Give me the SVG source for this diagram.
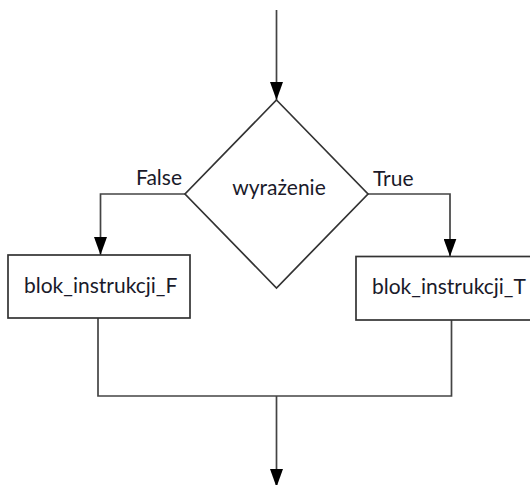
<svg xmlns="http://www.w3.org/2000/svg" width="530" height="485" viewBox="0 0 530 485">
<style>
.shape{fill:#fff;stroke:#333;stroke-width:1.7}
.conn{fill:none;stroke:#444;stroke-width:1.7}
.t{font-family:Lato,"Open Sans","DejaVu Sans",sans-serif;font-size:21px;fill:#1a1a2a}
</style>
<defs>
<marker id="arr" markerUnits="userSpaceOnUse" markerWidth="18" markerHeight="13" refX="18" refY="6.5" orient="auto">
<path d="M0,0 L18,6.5 L0,13 Z" fill="#000"/>
</marker>
</defs>
<g id="connectors">
<path class="conn" d="M276.5,10 V100" marker-end="url(#arr)"/>
<path class="conn" d="M185,194 H100.5 V255" marker-end="url(#arr)"/>
<path class="conn" d="M368,194 H450 V256.5" marker-end="url(#arr)"/>
<path class="conn" d="M98,318 V396 H451.5 V320"/>
<path class="conn" d="M276.5,396 V487" marker-end="url(#arr)"/>
</g>
<g id="decision">
<polygon class="shape" points="276.5,100 368,194 276.5,288 185,194"/>
<text class="t" x="279" y="195" text-anchor="middle">wyrażenie</text>
</g>
<g id="block-false">
<rect class="shape" x="8" y="255" width="182" height="63"/>
<text class="t" x="24" y="293">blok_instrukcji_F</text>
</g>
<g id="block-true">
<rect class="shape" x="356" y="256.5" width="184" height="63.5"/>
<text class="t" x="372" y="294">blok_instrukcji_T</text>
</g>
<g id="labels">
<text class="t" x="182" y="185" text-anchor="end">False</text>
<text class="t" x="373" y="186">True</text>
</g>
</svg>
